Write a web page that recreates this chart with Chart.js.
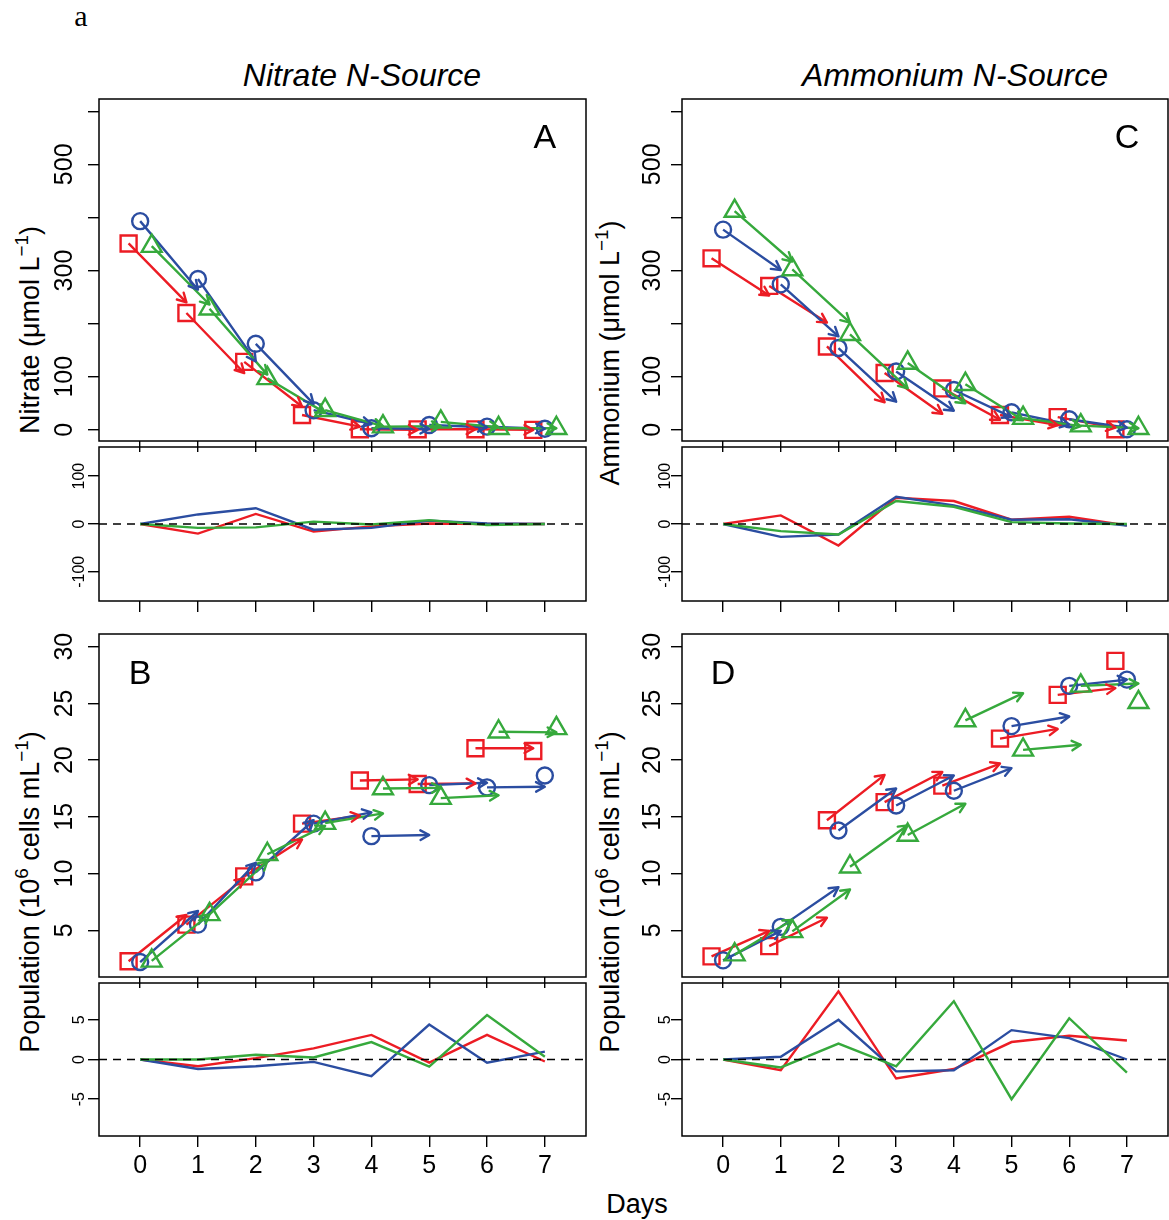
<!DOCTYPE html>
<html>
<head>
<meta charset="utf-8">
<title>Nitrate and ammonium uptake</title>
<script src="https://cdn.jsdelivr.net/npm/chart.js@4.4.1/dist/chart.umd.min.js"></script>
<style>
  html, body { margin: 0; padding: 0; background: #fff; }
  body { position: relative; width: 1169px; height: 1220px; overflow: hidden;
         font-family: "Liberation Sans", Arial, Helvetica, sans-serif; color: #000; }
  .panel { position: absolute; }
  .label { position: absolute; white-space: nowrap; line-height: 1; transform: translate(-50%, -50%); }
  .label.vert { transform: translate(-50%, -50%) rotate(-90deg); }
  .label sup { font-size: 0.7em; line-height: 0; vertical-align: 0; position: relative; top: -0.6em; }
  .head { font-size: 32px; font-style: italic; }
  .axis { font-size: 27px; }
</style>
</head>
<body>
<div class="label" style="left:81px;top:16px;font-family:'Liberation Serif',serif;font-size:30px">a</div>
<div class="label head" style="left:362px;top:75px">Nitrate N-Source</div>
<div class="label head" style="left:955px;top:75px">Ammonium N-Source</div>
<div class="label axis vert" style="left:30px;top:330px">Nitrate (μmol L<sup>−1</sup>)</div>
<div class="label axis vert" style="left:610px;top:353px">Ammonium (μmol L<sup>−1</sup>)</div>
<div class="label axis vert" style="left:30px;top:892px">Population (10<sup>6</sup> cells mL<sup>−1</sup>)</div>
<div class="label axis vert" style="left:610px;top:892px">Population (10<sup>6</sup> cells mL<sup>−1</sup>)</div>
<div class="label axis" style="left:637px;top:1204px">Days</div>

<script>
const days = [0, 1, 2, 3, 4, 5, 6, 7];

// Nitrate medium: concentration (µmol/L) and one-step-ahead residuals
const nitrateRed   = [351, 220, 128, 28, 1, 1, 1, 0];
const nitrateBlue  = [393, 284, 162, 37, 3, 9, 6, 2];
const nitrateGreen = [346, 228, 97, 37, 6, 15, 3, 3];
const nitrateResidRed   = [0, -20, 21, -16, -5, 1, 0, 0];
const nitrateResidBlue  = [0, 20, 33, -12, -8, 7, 1, 0];
const nitrateResidGreen = [0, -8, -7, 5, -1, 8, -2, 0];

// Ammonium medium
const ammoniumRed   = [323, 271, 157, 107, 78, 28, 24, 1];
const ammoniumBlue  = [377, 274, 154, 110, 75, 33, 20, 1];
const ammoniumGreen = [412, 302, 180, 126, 86, 22, 8, 3];
const ammoniumResidRed   = [0, 18, -45, 55, 48, 9, 15, -3];
const ammoniumResidBlue  = [0, -27, -22, 57, 39, 9, 10, -3];
const ammoniumResidGreen = [0, -15, -22, 48, 36, 4, 1, 0];

// Population (10^6 cells/mL) on nitrate
const popNitRed   = [2.27, 5.5, 9.75, 14.4, 18.2, 17.9, 21.05, 20.8];
const popNitBlue  = [2.2, 5.5, 10.1, 14.4, 13.3, 17.8, 17.6, 18.65];
const popNitGreen = [2.3, 6.4, 11.7, 14.45, 17.5, 16.65, 22.5, 22.8];
const popNitResidRed   = [0, -0.85, 0.17, 1.4, 3.1, -0.4, 3.1, -0.25];
const popNitResidBlue  = [0, -1.2, -0.85, -0.3, -2.1, 4.4, -0.4, 1.0];
const popNitResidGreen = [0, 0, 0.6, 0.25, 2.2, -0.9, 5.6, 0.35];

// Population on ammonium
const popAmmRed   = [2.7, 3.6, 14.7, 16.3, 17.75, 21.9, 25.75, 28.75];
const popAmmBlue  = [2.35, 5.3, 13.8, 16.0, 17.3, 23.0, 26.55, 27.1];
const popAmmGreen = [2.85, 4.9, 10.6, 13.4, 23.5, 20.9, 26.55, 25.1];
const popAmmResidRed   = [0, -1.35, 8.6, -2.4, -1.2, 2.2, 3.0, 2.4];
const popAmmResidBlue  = [0, 0.35, 5.0, -1.5, -1.35, 3.7, 2.7, 0];
const popAmmResidGreen = [0, -1.0, 2.0, -0.85, 7.35, -5.0, 5.2, -1.65];

// axis ticks
const concTicks = [0, 100, 200, 300, 400, 500, 600];
const concTickLabels = [0, 100, 300, 500];
const concResidTicks = [-100, 0, 100];
const popTicks = [5, 10, 15, 20, 25, 30];
const popResidTicks = [-5, 0, 5];

const X_MIN = -0.712, X_MAX = 7.712;
const FONT = '"Liberation Sans", Arial, Helvetica, sans-serif';
const TICK_LEN = 11;

// replicate styles: colour, horizontal shift, marker
const series = [
    { color: '#EC1C24', shift: -0.2, pointStyle: 'rect', radius: 11.3 },
    { color: '#2B4DA1', shift: 0, pointStyle: 'circle', radius: 8 },
    { color: '#36A93C', shift: 0.2, pointStyle: 'triangle', radius: 11.5 }
];

Chart.defaults.font.family = FONT;
Chart.defaults.color = '#000';

// box around the plotting region
const frame = {
    id: 'frame',
    afterDraw(chart) {
        const { left, top, width, height } = chart.chartArea;
        const ctx = chart.ctx;
        ctx.save();
        ctx.strokeStyle = '#000';
        ctx.lineWidth = 1.5;
        ctx.strokeRect(left, top, width, height);
        ctx.restore();
    }
};

// open arrow heads at the end of every prediction segment
const arrowHeads = {
    id: 'arrowHeads',
    afterDatasetsDraw(chart) {
        const ctx = chart.ctx;
        chart.data.datasets.forEach((ds, i) => {
            if (!ds.arrowHeads) return;
            const pts = chart.getDatasetMeta(i).data;
            ctx.save();
            ctx.strokeStyle = ds.borderColor;
            ctx.lineWidth = ds.borderWidth;
            ctx.lineCap = 'round';
            ctx.lineJoin = 'round';
            for (let k = 0; k + 1 < pts.length; k += 3) {
                const a = pts[k], b = pts[k + 1];
                const dx = b.x - a.x, dy = b.y - a.y;
                if (Math.hypot(dx, dy) < 1) continue;
                const ang = Math.atan2(dy, dx);
                const len = 10, spread = 0.5;
                ctx.beginPath();
                ctx.moveTo(b.x - len * Math.cos(ang - spread), b.y - len * Math.sin(ang - spread));
                ctx.lineTo(b.x, b.y);
                ctx.lineTo(b.x - len * Math.cos(ang + spread), b.y - len * Math.sin(ang + spread));
                ctx.stroke();
            }
            ctx.restore();
        });
    }
};

// big panel letter placed in data coordinates
const panelLetter = {
    id: 'panelLetter',
    afterDatasetsDraw(chart, args, opts) {
        if (!opts || !opts.text) return;
        const ctx = chart.ctx;
        ctx.save();
        ctx.font = `34px ${FONT}`;
        ctx.fillStyle = '#000';
        ctx.textAlign = 'center';
        ctx.textBaseline = 'middle';
        ctx.fillText(opts.text, chart.scales.x.getPixelForValue(opts.x), chart.scales.y.getPixelForValue(opts.y));
        ctx.restore();
    }
};

function trajectoryDatasets(obsList, residList) {
    const sets = [];
    series.forEach((s, k) => {
        const obs = obsList[k], resid = residList[k];
        const segs = [];
        for (let d = 0; d < days.length - 1; d++) {
            // arrow from today's value to tomorrow's prediction (observed minus residual)
            segs.push({ x: days[d] + s.shift, y: obs[d] });
            segs.push({ x: days[d + 1] + s.shift, y: obs[d + 1] - resid[d + 1] });
            segs.push({ x: days[d + 1] + s.shift, y: null });
        }
        sets.push({
            data: segs, showLine: true, spanGaps: false, arrowHeads: true,
            borderColor: s.color, borderWidth: 2.4, pointRadius: 0
        });
        sets.push({
            data: days.map((d, i) => ({ x: d + s.shift, y: obs[i] })),
            showLine: false, pointStyle: s.pointStyle, pointRadius: s.radius,
            borderColor: s.color, backgroundColor: 'rgba(0,0,0,0)', borderWidth: 2.4
        });
    });
    return sets.reverse();
}

function residualDatasets(residList) {
    const sets = [{
        data: [{ x: X_MIN, y: 0 }, { x: X_MAX, y: 0 }],
        showLine: true, borderColor: '#000', borderWidth: 1.6, borderDash: [8, 6], pointRadius: 0
    }];
    for (let k = series.length - 1; k >= 0; k--) {
        sets.push({
            data: days.map((d, i) => ({ x: d, y: residList[k][i] })),
            showLine: true, borderColor: series[k].color, borderWidth: 2.4, pointRadius: 0
        });
    }
    return sets;
}

function tickPadding(labels, size, gap) {
    const ctx = document.createElement('canvas').getContext('2d');
    ctx.font = `${size}px ${FONT}`;
    const widest = Math.max(...labels.map(t => ctx.measureText(String(t)).width));
    return gap - TICK_LEN - widest / 2;
}

// keep the plotting box fixed: no extra room for overhanging tick labels
function fixSize(scale, prop, size) {
    scale[prop] = size;
    scale.paddingTop = 0;
    scale.paddingBottom = 0;
    scale.paddingLeft = 0;
    scale.paddingRight = 0;
}

function makePanel(box, datasets, y, opts) {
    const div = document.createElement('div');
    div.className = 'panel';
    div.style.left = (box.l - 99) + 'px';
    div.style.top = (box.t - 10) + 'px';
    div.style.width = (box.r - box.l + 99 + 12) + 'px';
    div.style.height = (box.b - box.t + 10 + 60) + 'px';
    const canvas = document.createElement('canvas');
    div.appendChild(canvas);
    document.body.appendChild(div);

    const shown = y.labels || y.ticks;
    return new Chart(canvas, {
        type: 'scatter',
        data: { datasets },
        options: {
            responsive: true,
            maintainAspectRatio: false,
            animation: false,
            events: [],
            layout: { autoPadding: false, padding: { left: 0, top: 10, right: 12, bottom: 0 } },
            plugins: {
                legend: { display: false },
                tooltip: { enabled: false },
                panelLetter: opts.letter || false
            },
            scales: {
                x: {
                    type: 'linear', min: X_MIN, max: X_MAX,
                    afterBuildTicks: s => { s.ticks = days.map(v => ({ value: v })); },
                    afterFit: s => fixSize(s, 'height', 60),
                    ticks: {
                        display: !!opts.xLabels, autoSkip: false, maxRotation: 0,
                        font: { size: 25 }, color: '#000', padding: 4
                    },
                    grid: { drawOnChartArea: false, tickLength: TICK_LEN, color: '#000', lineWidth: 1.4 },
                    border: { display: false }
                },
                y: {
                    type: 'linear', min: y.min, max: y.max,
                    afterBuildTicks: s => { s.ticks = y.ticks.map(v => ({ value: v })); },
                    afterFit: s => fixSize(s, 'width', 99),
                    ticks: {
                        autoSkip: false, minRotation: 90, maxRotation: 90, crossAlign: 'center',
                        font: { size: y.fontSize }, color: '#000',
                        padding: tickPadding(shown, y.fontSize, y.gap),
                        callback: v => shown.includes(v) ? String(v) : ''
                    },
                    grid: { drawOnChartArea: false, tickLength: TICK_LEN, color: '#000', lineWidth: 1.4 },
                    border: { display: false }
                }
            }
        },
        plugins: [frame, arrowHeads, panelLetter]
    });
}

const cols = {
    left:  { l: 99,  r: 586,  gap: 34, residGap: 19.5 },
    right: { l: 682, r: 1168, gap: 29, residGap: 16 }
};
const rows = {
    conc:      { t: 99,  b: 441 },
    concResid: { t: 447, b: 601 },
    pop:       { t: 634, b: 977 },
    popResid:  { t: 983, b: 1136 }
};
const box = (c, r) => ({ l: cols[c].l, r: cols[c].r, t: rows[r].t, b: rows[r].b });

const concAxis = gap => ({ min: -21, max: 623, ticks: concTicks, labels: concTickLabels, fontSize: 25, gap });
const concResidAxis = gap => ({ min: -161, max: 161, ticks: concResidTicks, fontSize: 16, gap });
const popAxis = gap => ({ min: 0.88, max: 31.12, ticks: popTicks, fontSize: 25, gap });
const popResidAxis = gap => ({ min: -9.64, max: 9.64, ticks: popResidTicks, fontSize: 16, gap });

// A: nitrate
makePanel(box('left', 'conc'),
    trajectoryDatasets([nitrateRed, nitrateBlue, nitrateGreen], [nitrateResidRed, nitrateResidBlue, nitrateResidGreen]),
    concAxis(cols.left.gap), { letter: { text: 'A', x: 7, y: 549 } });
makePanel(box('left', 'concResid'),
    residualDatasets([nitrateResidRed, nitrateResidBlue, nitrateResidGreen]),
    concResidAxis(cols.left.residGap), {});

// C: ammonium
makePanel(box('right', 'conc'),
    trajectoryDatasets([ammoniumRed, ammoniumBlue, ammoniumGreen], [ammoniumResidRed, ammoniumResidBlue, ammoniumResidGreen]),
    concAxis(cols.right.gap), { letter: { text: 'C', x: 7, y: 549 } });
makePanel(box('right', 'concResid'),
    residualDatasets([ammoniumResidRed, ammoniumResidBlue, ammoniumResidGreen]),
    concResidAxis(cols.right.residGap), {});

// B: population on nitrate
makePanel(box('left', 'pop'),
    trajectoryDatasets([popNitRed, popNitBlue, popNitGreen], [popNitResidRed, popNitResidBlue, popNitResidGreen]),
    popAxis(cols.left.gap), { letter: { text: 'B', x: 0, y: 27.5 } });
makePanel(box('left', 'popResid'),
    residualDatasets([popNitResidRed, popNitResidBlue, popNitResidGreen]),
    popResidAxis(cols.left.residGap), { xLabels: true });

// D: population on ammonium
makePanel(box('right', 'pop'),
    trajectoryDatasets([popAmmRed, popAmmBlue, popAmmGreen], [popAmmResidRed, popAmmResidBlue, popAmmResidGreen]),
    popAxis(cols.right.gap), { letter: { text: 'D', x: 0, y: 27.5 } });
makePanel(box('right', 'popResid'),
    residualDatasets([popAmmResidRed, popAmmResidBlue, popAmmResidGreen]),
    popResidAxis(cols.right.residGap), { xLabels: true });
</script>
</body>
</html>
